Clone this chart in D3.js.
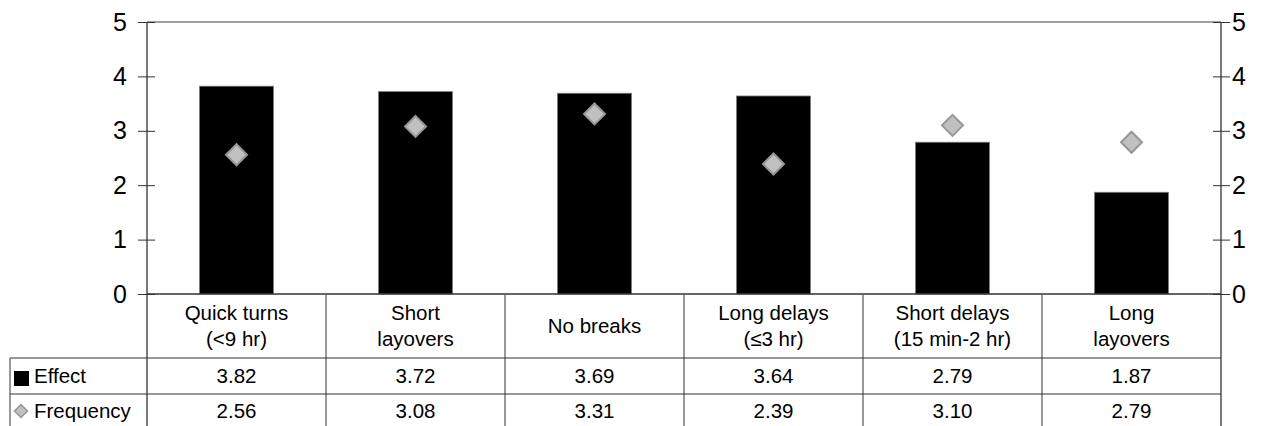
<!DOCTYPE html>
<html>
<head>
<meta charset="utf-8">
<script src="https://cdn.jsdelivr.net/npm/d3@7"></script>
<style>
  body { margin: 0; background: #fff; }
  text { font-family: "Liberation Sans", Arial, sans-serif; fill: #000; }
</style>
</head>
<body>
<script>
// data
var categories = [["Quick turns", "(<9 hr)"], ["Short", "layovers"], ["No breaks"],
                  ["Long delays", "(\u22643 hr)"], ["Short delays", "(15 min-2 hr)"], ["Long", "layovers"]];
var effect = [3.82, 3.72, 3.69, 3.64, 2.79, 1.87];
var frequency = [2.56, 3.08, 3.31, 2.39, 3.10, 2.79];
var yTicks = [0, 1, 2, 3, 4, 5];

// layout
var W = 1262, H = 426;
var plotLeft = 147, plotRight = 1221, plotTop = 22, base = 294;
var row1 = 358, row2 = 394, tableLeft = 10;
var tableFont = "20.5px";

var svg = d3.select("body").append("svg")
    .attr("width", W)
    .attr("height", H);

var idx = d3.range(categories.length);
var xCol = d3.scaleBand().domain(idx).range([plotLeft, plotRight]);
var xBar = d3.scaleBand().domain(idx).range([plotLeft, plotRight])
    .paddingInner(0.587).paddingOuter(0.2935);
var y = d3.scaleLinear().domain([0, 5]).range([base, plotTop]);

// top border line at 5
svg.append("line")
    .attr("x1", plotLeft).attr("x2", plotRight)
    .attr("y1", y(5)).attr("y2", y(5))
    .attr("stroke", "#808080").attr("stroke-width", 1.5);

// bars
svg.selectAll(".bar")
    .data(effect)
  .enter().append("rect")
    .attr("class", "bar")
    .attr("x", function(d, i) { return xBar(i); })
    .attr("y", function(d) { return y(d); })
    .attr("width", xBar.bandwidth())
    .attr("height", function(d) { return base - y(d); })
    .attr("fill", "#000")
    .attr("stroke", "#7a7a7a")
    .attr("stroke-width", 0.8);

// diamonds
var diamond = function(cx, cy, r) {
  return "M" + cx + "," + (cy - r) + "L" + (cx + r) + "," + cy +
         "L" + cx + "," + (cy + r) + "L" + (cx - r) + "," + cy + "Z";
};
svg.selectAll(".point")
    .data(frequency)
  .enter().append("path")
    .attr("class", "point")
    .attr("d", function(d, i) { return diamond(xCol(i) + xCol.bandwidth() / 2, y(d), 10.5); })
    .attr("fill", "#c0c0c0")
    .attr("stroke", "#969696")
    .attr("stroke-width", 2);

// axes
var leftAxis = svg.append("g")
    .attr("transform", "translate(" + plotLeft + ",0)")
    .call(d3.axisLeft(y).tickValues(yTicks).tickFormat(d3.format("d")).tickSize(9).tickPadding(11));
var rightAxis = svg.append("g")
    .attr("transform", "translate(" + plotRight + ",0)")
    .call(d3.axisRight(y).tickValues(yTicks).tickFormat(d3.format("d")).tickSize(9).tickPadding(2));

[leftAxis, rightAxis].forEach(function(g, k) {
  g.select(".domain").remove();
  g.selectAll(".tick line")
      .attr("x1", k === 0 ? -9 : -8)
      .attr("x2", k === 0 ? 8 : 9)
      .attr("stroke", "#333");
  g.selectAll(".tick text")
      .style("font-size", "25px")
      .style("font-family", "Liberation Sans, Arial, sans-serif")
      .attr("fill", "#000");
});

// vertical axis lines (run through table)
[plotLeft, plotRight].forEach(function(x) {
  svg.append("line")
      .attr("x1", x).attr("x2", x)
      .attr("y1", plotTop).attr("y2", H)
      .attr("stroke", "#333").attr("stroke-width", 1.3);
});

// baseline
svg.append("line")
    .attr("x1", plotLeft).attr("x2", plotRight)
    .attr("y1", base).attr("y2", base)
    .attr("stroke", "#333").attr("stroke-width", 1.3);

// data table
var table = svg.append("g").attr("class", "table");

// column separators
idx.slice(1).forEach(function(i) {
  table.append("line")
      .attr("x1", xCol(i)).attr("x2", xCol(i))
      .attr("y1", base).attr("y2", H)
      .attr("stroke", "#555").attr("stroke-width", 1.2);
});
// row lines
[row1, row2].forEach(function(r) {
  table.append("line")
      .attr("x1", tableLeft).attr("x2", plotRight)
      .attr("y1", r).attr("y2", r)
      .attr("stroke", "#333").attr("stroke-width", 1.2);
});
table.append("line")
    .attr("x1", tableLeft).attr("x2", tableLeft)
    .attr("y1", row1).attr("y2", H)
    .attr("stroke", "#555").attr("stroke-width", 1.2);

// category labels
categories.forEach(function(lines, i) {
  var cx = xCol(i) + xCol.bandwidth() / 2;
  var mid = (base + row1) / 2;
  var lh = 26;
  var t = table.append("text")
      .attr("text-anchor", "middle")
      .style("font-size", tableFont);
  lines.forEach(function(s, j) {
    t.append("tspan")
        .attr("x", cx)
        .attr("y", mid + (j - (lines.length - 1) / 2) * lh)
        .attr("dy", "0.35em")
        .text(s);
  });
});

// value rows
[[effect, (row1 + row2) / 2], [frequency, (row2 + 426 + 2) / 2]].forEach(function(r) {
  table.selectAll(null)
      .data(r[0])
    .enter().append("text")
      .attr("x", function(d, i) { return xCol(i) + xCol.bandwidth() / 2; })
      .attr("y", r[1])
      .attr("dy", "0.35em")
      .attr("text-anchor", "middle")
      .style("font-size", tableFont)
      .text(function(d) { return d.toFixed(2); });
});

// legend keys
table.append("rect")
    .attr("x", 14).attr("y", 371)
    .attr("width", 15).attr("height", 15)
    .attr("fill", "#000");
table.append("text")
    .attr("x", 34).attr("y", (row1 + row2) / 2)
    .attr("dy", "0.35em")
    .style("font-size", tableFont)
    .text("Effect");
table.append("path")
    .attr("d", diamond(21, 411, 6.5))
    .attr("fill", "#c0c0c0")
    .attr("stroke", "#969696")
    .attr("stroke-width", 1.5);
table.append("text")
    .attr("x", 34).attr("y", (row2 + 426 + 2) / 2)
    .attr("dy", "0.35em")
    .style("font-size", tableFont)
    .text("Frequency");
</script>
</body>
</html>
